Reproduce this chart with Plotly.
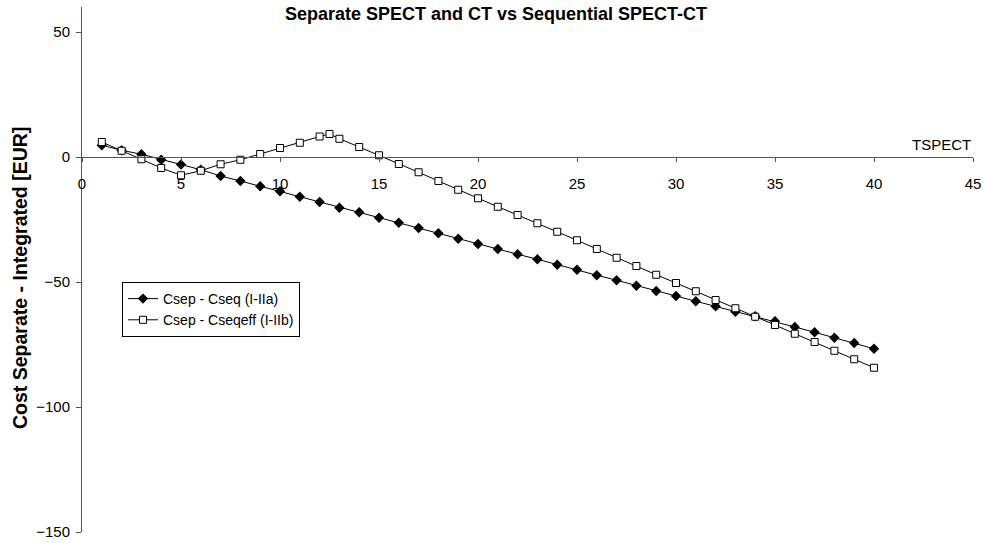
import plotly.graph_objects as go

x_seq = list(range(1, 41))
y_seq = [4.7, 2.7, 1.1, -1.1, -3.0, -5.1, -7.6, -9.6, -11.7, -13.7,
         -15.9, -18.0, -20.3, -22.1, -24.3, -26.3, -28.4, -30.5, -32.7, -34.8,
         -36.8, -38.9, -40.9, -43.1, -45.1, -47.3, -49.3, -51.5, -53.6, -55.6,
         -57.7, -59.7, -61.9, -63.7, -65.7, -68.0, -70.1, -72.3, -74.4, -76.7]

x_eff = [1, 2, 3, 4, 5, 6, 7, 8, 9, 10, 11, 12, 12.5, 13, 14, 15, 16, 17, 18, 19, 20,
         21, 22, 23, 24, 25, 26, 27, 28, 29, 30, 31, 32, 33, 34, 35, 36, 37, 38, 39, 40]
y_eff = [6.0, 2.5, -0.9, -4.4, -7.3, -5.5, -2.9, -1.1, 1.2, 3.6, 5.7, 8.2, 9.2, 7.3,
         4.0, 0.7, -2.8, -6.1, -9.6, -13.1, -16.5, -19.9, -23.2, -26.5, -29.9,
         -33.3, -36.8, -40.3, -43.6, -47.1, -50.4, -53.7, -57.2, -60.5, -63.9,
         -67.2, -70.7, -74.0, -77.5, -80.9, -84.3]

x_ticks = [0, 5, 10, 15, 20, 25, 30, 35, 40, 45]
y_ticks = [-150, -100, -50, 0, 50]

FONT = "Liberation Sans, Arial, sans-serif"

fig = go.Figure()
fig.add_trace(go.Scatter(
    x=x_seq, y=y_seq, mode="lines+markers", name="Csep - Cseq (I-IIa)",
    line=dict(color="black", width=1),
    marker=dict(symbol="diamond", size=8, color="black"),
))
fig.add_trace(go.Scatter(
    x=x_eff, y=y_eff, mode="lines+markers", name="Csep - Cseqeff (I-IIb)",
    line=dict(color="black", width=1),
    marker=dict(symbol="square", size=7, color="white", line=dict(color="black", width=1)),
))

fig.update_layout(
    width=983, height=543,
    margin=dict(l=82, r=10, t=7, b=11, autoexpand=False),
    paper_bgcolor="white", plot_bgcolor="white",
    font=dict(family=FONT, size=14, color="black"),
    showlegend=True,
    legend=dict(x=(122 - 82) / 891, y=1 - (282 - 7) / 525, xanchor="left", yanchor="top",
                bordercolor="black", borderwidth=1, bgcolor="white",
                font=dict(size=14, family=FONT), itemwidth=30,
                tracegroupgap=0),
    xaxis=dict(range=[0, 45], tickvals=x_ticks, showgrid=False, zeroline=False,
               showline=True, linecolor="#555", linewidth=1,
               ticks="outside", ticklen=4, tickcolor="#555",
               anchor="free", position=150 / 210, automargin=False,
               ticklabelstandoff=9,
               tickfont=dict(size=15, family=FONT)),
    yaxis=dict(range=[-150, 60], tickvals=y_ticks, showgrid=False, zeroline=False,
               showline=True, linecolor="#555", linewidth=1,
               ticks="outside", ticklen=5, tickcolor="#555", automargin=False,
               ticklabelstandoff=3,
               tickfont=dict(size=15, family=FONT)),
    annotations=[
        dict(text="<b>Separate SPECT and CT vs Sequential SPECT-CT</b>",
             xref="paper", yref="paper", x=(496 - 82) / 891, y=1 - (14 - 7) / 525,
             xanchor="center", yanchor="middle", showarrow=False,
             font=dict(size=18, family=FONT)),
        dict(text="TSPECT", xref="x", yref="y", x=45, y=0,
             xanchor="right", yanchor="bottom", yshift=2, showarrow=False,
             font=dict(size=15, family=FONT)),
        dict(text="<b>Cost Separate - Integrated [EUR]</b>", xref="paper", yref="paper",
             x=0, y=(532 - 278) / 525, xshift=-62, xanchor="center", yanchor="middle",
             textangle=-90, showarrow=False, font=dict(size=19.5, family=FONT)),
    ],
)

fig.write_html("out.html", config={"displayModeBar": False},
               post_script="document.body.style.margin='0';")
